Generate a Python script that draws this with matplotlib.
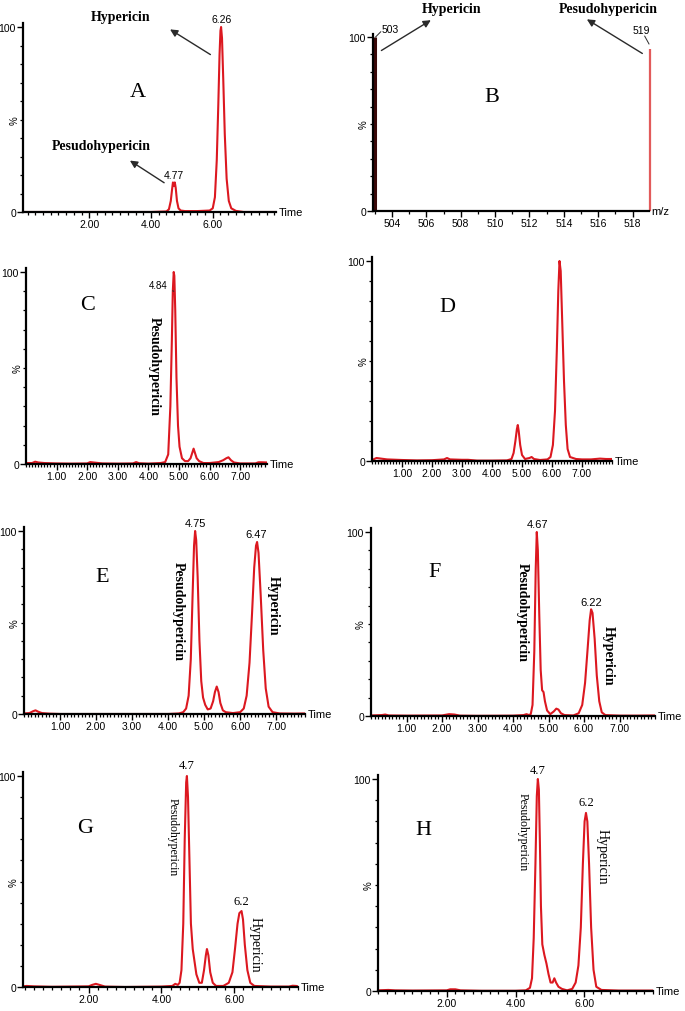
import numpy as np
import matplotlib
matplotlib.use("Agg")
import matplotlib.pyplot as plt
from matplotlib.ticker import MultipleLocator, FixedLocator

# ---- data (time in min, intensity in %) ----
A_time = [-0.15, 1.0, 2.0, 3.0, 4.0, 4.5, 4.58, 4.64, 4.68, 4.71, 4.74, 4.77, 4.80, 4.84, 4.89, 4.96, 5.1, 5.5, 5.9, 6.0,
          6.07, 6.13, 6.18, 6.22, 6.25, 6.27, 6.30, 6.34, 6.39, 6.45, 6.52, 6.6, 6.75, 7.0, 8.05]
A_int = [0, 0, 0, 0, 0, 0.3, 1.5, 6, 12, 16, 14, 16, 13, 6, 2, 0.8, 0.5, 0.5, 0.8, 2,
         8, 28, 58, 85, 98, 100, 94, 72, 42, 18, 6, 2, 0.6, 0, 0]

B_mz = [503, 519]
B_int = [100, 93]

C_time = [0.0, 0.2, 0.3, 0.4, 0.6, 1.0, 1.5, 2.0, 2.1, 2.2, 2.5, 3.0, 3.5, 3.6, 3.7, 4.0, 4.4, 4.55, 4.65, 4.72, 4.77,
          4.80, 4.83, 4.85, 4.88, 4.92, 4.97, 5.02, 5.1, 5.2, 5.3, 5.38, 5.44, 5.48, 5.52, 5.58, 5.66, 5.8, 6.0, 6.3,
          6.45, 6.55, 6.62, 6.7, 6.8, 7.0, 7.5, 7.6, 7.7, 7.88]
C_int = [0.5, 0.5, 1.2, 0.8, 0.5, 0.3, 0.2, 0.3, 1.0, 0.8, 0.3, 0.2, 0.3, 1.0, 0.4, 0.2, 0.5, 1, 5, 30, 65,
         90, 100, 98, 80, 45, 20, 9, 3, 1.5, 1.5, 3, 6, 8, 6, 3, 1.5, 0.5, 0.5, 1,
         2, 3, 3.5, 2, 0.8, 0.3, 0.3, 0.9, 0.9, 0.8]

D_time = [0.0, 0.15, 0.3, 0.5, 1.0, 1.5, 2.0, 2.4, 2.5, 2.6, 3.0, 3.2, 3.5, 4.0, 4.5, 4.65, 4.72, 4.78, 4.83, 4.86,
          4.89, 4.94, 5.0, 5.1, 5.25, 5.32, 5.4, 5.6, 5.85, 5.95, 6.03, 6.1, 6.16, 6.21, 6.25, 6.29, 6.34, 6.4, 6.46,
          6.52, 6.6, 6.8, 7.0, 7.3, 7.6, 7.8, 8.0]
D_int = [0.5, 1.5, 1.2, 0.8, 0.5, 0.3, 0.4, 0.8, 1.5, 0.8, 0.6, 0.6, 0.2, 0.2, 0.3, 1, 4, 10, 16, 18,
         15, 8, 3, 1, 1.5, 2, 1, 0.5, 0.8, 2, 8, 25, 55, 85, 100, 95, 70, 40, 18,
         6, 2, 1, 0.8, 0.8, 1.2, 1.0, 1.0]

E_time = [0.0, 0.15, 0.25, 0.32, 0.4, 0.5, 0.7, 1.0, 2.0, 3.0, 4.0, 4.3, 4.42, 4.5, 4.57, 4.63, 4.68, 4.72, 4.75,
          4.78, 4.82, 4.87, 4.92, 4.97, 5.03, 5.1, 5.18, 5.25, 5.3, 5.35, 5.4, 5.45, 5.52, 5.6, 5.8, 6.0, 6.1, 6.18,
          6.26, 6.33, 6.39, 6.44, 6.47, 6.51, 6.57, 6.64, 6.71, 6.79, 6.9, 7.1, 7.5, 7.8]
E_int = [0.3, 0.5, 1.5, 2, 1.2, 0.5, 0.2, 0, 0, 0, 0, 0.3, 1, 3, 10, 30, 65, 92, 100,
         95, 75, 40, 18, 9, 5, 2.5, 3, 7, 12, 15, 12, 6, 2, 1, 0.5, 1, 3, 10,
         28, 55, 80, 92, 94, 88, 65, 35, 14, 4, 1, 0.3, 0.2, 0.3]

F_time = [0.0, 0.3, 0.4, 0.5, 1.0, 2.0, 2.2, 2.35, 2.5, 3.0, 4.0, 4.3, 4.38, 4.45, 4.5, 4.55, 4.6, 4.64, 4.67, 4.7,
          4.74, 4.78, 4.82, 4.86, 4.9, 4.96, 5.05, 5.15, 5.22, 5.28, 5.35, 5.45, 5.7, 5.85, 5.95, 6.03, 6.1, 6.16,
          6.2, 6.24, 6.3, 6.36, 6.43, 6.5, 6.6, 7.0, 7.5, 8.0]
F_int = [0.3, 0.5, 0.8, 0.3, 0.2, 0.3, 1.0, 0.8, 0.2, 0.1, 0.2, 0.5, 1, 0.5, 1, 6, 35, 80, 100, 90,
         55, 25, 14, 13, 8, 3, 1, 2.5, 4, 3.5, 1.5, 0.5, 0.3, 1.5, 6, 18, 36, 52,
         58, 56, 42, 22, 8, 2, 0.5, 0.2, 0.2, 0.3]

G_time = [0.2, 0.3, 0.5, 1.0, 2.0, 2.1, 2.2, 2.3, 2.45, 3.0, 4.0, 4.3, 4.38, 4.45, 4.5, 4.55, 4.6, 4.64, 4.68, 4.7,
          4.73, 4.77, 4.81, 4.86, 4.91, 4.96, 5.04, 5.11, 5.17, 5.22, 5.25, 5.29, 5.34, 5.41, 5.5, 5.7, 5.85, 5.95,
          6.02, 6.09, 6.14, 6.2, 6.24, 6.29, 6.36, 6.44, 6.55, 7.0, 7.5, 7.6, 7.7, 7.75]
G_int = [0.3, 0.5, 0.3, 0.1, 0.3, 1.0, 1.5, 1.0, 0.2, 0, 0.2, 0.5, 1.5, 1, 2, 8, 30, 70, 97, 100,
         90, 60, 30, 18, 12, 6, 2, 2, 8, 15, 18, 15, 7, 2, 0.5, 0.5, 2, 7,
         18, 30, 35, 36, 32, 20, 8, 2, 0.5, 0.2, 0.2, 0.6, 0.5, 0.3]

H_time = [0.0, 0.3, 0.5, 1.0, 2.0, 2.1, 2.25, 2.4, 3.0, 4.0, 4.3, 4.42, 4.48, 4.53, 4.58, 4.62, 4.65, 4.68, 4.71,
          4.74, 4.78, 4.84, 4.9, 4.96, 5.02, 5.08, 5.13, 5.18, 5.25, 5.35, 5.5, 5.65, 5.75, 5.83, 5.9, 5.96, 6.01,
          6.05, 6.09, 6.14, 6.2, 6.27, 6.35, 6.5, 7.0, 8.0]
H_int = [0.3, 0.5, 0.3, 0.2, 0.3, 0.8, 0.8, 0.3, 0.1, 0.1, 0.3, 1.5, 6, 25, 60, 92, 100, 95, 70,
         40, 22, 17, 13, 8, 4, 4, 6, 4, 2, 1, 0.3, 1, 4, 12, 30, 60, 80,
         84, 80, 60, 30, 10, 2, 0.5, 0.2, 0.2]

W, H = 685, 1012
RED = '#dc1820'
SERIF = 'Liberation Serif'
SANS = ['Liberation Sans Narrow', 'Liberation Sans', 'DejaVu Sans']

fig = plt.figure(figsize=(W / 100, H / 100), dpi=100)


def make_axes(x0, x1, y0, y100, xlim, major, minor, fmt, xlabel='Time'):
    h100 = y0 - y100
    top = 1.02
    ax = fig.add_axes([x0 / W, 1 - y0 / H, (x1 - x0) / W, h100 * top / H])
    ax.set_xlim(*xlim)
    ax.set_ylim(0, 100 * top)
    for s in ['top', 'right']:
        ax.spines[s].set_visible(False)
    for s in ['left', 'bottom']:
        ax.spines[s].set_linewidth(1.6)
    ax.xaxis.set_major_locator(FixedLocator(major))
    ax.xaxis.set_minor_locator(MultipleLocator(minor))
    ax.set_xticklabels([fmt.format(v) for v in major], family=SANS, fontsize=7.5)
    ax.set_yticks([0, 100])
    ax.set_yticklabels(['0', '100'], family=SANS, fontsize=7.5)
    ax.yaxis.set_minor_locator(MultipleLocator(10))
    ax.tick_params(which='major', direction='out', length=4, width=1, pad=1)
    ax.tick_params(which='minor', direction='out', length=2.5, width=0.9)
    ax.text(-0.035, 50, '%', transform=ax.get_yaxis_transform(), rotation=90,
            ha='center', va='center', fontsize=7, family=SANS)
    ax.text(1.01, 0, xlabel, transform=ax.get_yaxis_transform(), ha='left', va='center',
            fontsize=8, family=SANS)
    return ax


def trace(ax, t, y):
    ax.plot(t, y, color=RED, lw=1.5, solid_joinstyle='round')


def vlabel(ax, x, y, s, size=10, weight='bold'):
    ax.text(x, y, s, rotation=270, ha='center', va='center', family=SERIF,
            fontsize=size, fontweight=weight)


def letter(ax, x, y, s):
    ax.text(x, y, s, ha='center', va='center', family=SERIF, fontsize=16)


def peak_label(ax, x, y, s, size=7.5, family=SANS):
    ax.text(x, y, s, ha='center', va='bottom', family=family, fontsize=size)


arrow = dict(arrowstyle='-|>', color='#2a2a2a', lw=1.0, mutation_scale=11)

# ---- A ----
ax = make_axes(23, 276, 213, 28, (-0.15, 8.05), [2, 4, 6], 0.25, '{:.2f}')
trace(ax, A_time, A_int)
peak_label(ax, 6.29, 101.5, '6.26')
peak_label(ax, 4.75, 17.5, '4.77')
letter(ax, 3.56, 65, 'A')
ax.text(3.0, 105.5, 'Hypericin', ha='center', va='center', family=SERIF, fontsize=10,
        fontweight='bold', clip_on=False)
ax.text(2.39, 36, 'Pesudohypericin', ha='center', va='center', family=SERIF, fontsize=10,
        fontweight='bold')
ax.annotate('', xy=(4.54, 99.5), xytext=(6.0, 84.3), arrowprops=arrow, annotation_clip=False)
ax.annotate('', xy=(3.24, 28.6), xytext=(4.5, 15), arrowprops=arrow)

# ---- B ----
ax = make_axes(373, 649, 212, 38, (502.9, 518.95), list(range(504, 519, 2)), 1, '{:d}', xlabel='m/z')
ax.vlines(B_mz[0], 0, B_int[0], color='#3a0808', lw=2.2)
ax.vlines(B_mz[1], 0, B_int[1], color='#e25a5a', lw=1.6, clip_on=False)
ax.text(503.4, 102, '503', ha='left', va='bottom', family=SANS, fontsize=7.5, clip_on=False)
ax.plot([503.05, 503.35], [100, 103], color='#2a2a2a', lw=0.7, clip_on=False)
ax.text(518.5, 101, '519', ha='center', va='bottom', family=SANS, fontsize=7.5, clip_on=False)
ax.plot([518.7, 518.95], [100.5, 96], color='#2a2a2a', lw=0.7, clip_on=False)
letter(ax, 509.8, 66, 'B')
ax.text(507.45, 116.5, 'Hypericin', ha='center', va='center', family=SERIF, fontsize=10,
        fontweight='bold', clip_on=False)
ax.text(516.6, 116.5, 'Pesudohypericin', ha='center', va='center', family=SERIF, fontsize=10,
        fontweight='bold', clip_on=False)
ax.annotate('', xy=(506.4, 110.5), xytext=(503.25, 91.4), arrowprops=arrow, annotation_clip=False)
ax.annotate('', xy=(515.2, 111), xytext=(518.7, 89.7), arrowprops=arrow, annotation_clip=False)

# ---- C ----
ax = make_axes(26, 267, 465, 273, (0, 7.88), [1, 2, 3, 4, 5, 6, 7], 0.1, '{:.2f}')
trace(ax, C_time, C_int)
ax.annotate('4.84', xy=(4.83, 90), xytext=(4.62, 93), ha='right', va='center', family=SANS,
            fontsize=7, arrowprops=dict(arrowstyle='-', lw=0.8, color='#2a2a2a'))
letter(ax, 2.02, 83, 'C')
vlabel(ax, 4.21, 51.5, 'Pesudohypericin')

# ---- D ----
ax = make_axes(372, 612, 462, 262, (0, 8.0), [1, 2, 3, 4, 5, 6, 7], 0.1, '{:.2f}')
trace(ax, D_time, D_int)
letter(ax, 2.52, 77.5, 'D')

# ---- E ----
ax = make_axes(24, 305, 715, 532, (0, 7.8), [1, 2, 3, 4, 5, 6, 7], 0.1, '{:.2f}')
trace(ax, E_time, E_int)
peak_label(ax, 4.75, 101.5, '4.75', size=8)
peak_label(ax, 6.45, 95.5, '6.47', size=8)
letter(ax, 2.17, 75.4, 'E')
vlabel(ax, 4.28, 56.3, 'Pesudohypericin')
vlabel(ax, 6.92, 59.6, 'Hypericin')

# ---- F ----
ax = make_axes(371, 655, 717, 533, (0, 8.0), [1, 2, 3, 4, 5, 6, 7], 0.1, '{:.2f}')
trace(ax, F_time, F_int)
peak_label(ax, 4.68, 101.5, '4.67', size=8)
peak_label(ax, 6.2, 59.5, '6.22', size=8)
letter(ax, 1.8, 78.8, 'F')
vlabel(ax, 4.25, 57, 'Pesudohypericin')
vlabel(ax, 6.68, 33, 'Hypericin')

# ---- G ----
ax = make_axes(23, 298, 988, 777, (0.2, 7.75), [2, 4, 6], 0.25, '{:.2f}')
trace(ax, G_time, G_int)
peak_label(ax, 4.7, 102.5, '4.7', size=9, family=SERIF)
peak_label(ax, 6.2, 38, '6.2', size=9, family=SERIF)
letter(ax, 1.9, 75.8, 'G')
vlabel(ax, 4.32, 71.6, 'Pesudohypericin', size=8.5, weight='normal')
vlabel(ax, 6.57, 20.4, 'Hypericin', size=10, weight='normal')

# ---- H ----
ax = make_axes(378, 653, 992, 780, (0, 8.0), [2, 4, 6], 0.25, '{:.2f}')
trace(ax, H_time, H_int)
peak_label(ax, 4.65, 101.5, '4.7', size=9, family=SERIF)
peak_label(ax, 6.05, 86.3, '6.2', size=9, family=SERIF)
letter(ax, 1.31, 76.4, 'H')
vlabel(ax, 4.22, 75.5, 'Pesudohypericin', size=8.5, weight='normal')
vlabel(ax, 6.51, 63.7, 'Hypericin', size=10, weight='normal')

fig.savefig('out.png', dpi=100)
